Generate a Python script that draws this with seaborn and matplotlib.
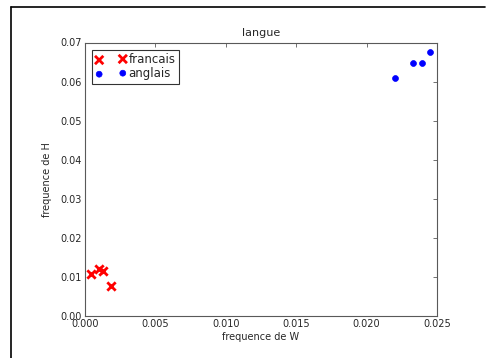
import matplotlib
matplotlib.use("Agg")
import matplotlib.pyplot as plt
from matplotlib.lines import Line2D
import seaborn as sns
import pandas as pd

# frequences
francais_w = [0.00043, 0.00099, 0.00128, 0.00185]
francais_h = [0.01075, 0.0120, 0.0115, 0.0077]
anglais_w = [0.0220, 0.0233, 0.0239, 0.0245]
anglais_h = [0.0610, 0.0647, 0.0648, 0.0676]

x_ticks = [0.000, 0.005, 0.010, 0.015, 0.020, 0.025]
y_ticks = [0.00, 0.01, 0.02, 0.03, 0.04, 0.05, 0.06, 0.07]

sns.set_style("white", {
    "xtick.direction": "in",
    "ytick.direction": "in",
    "axes.edgecolor": "0.35",
})
plt.rcParams["font.family"] = ["DejaVu Sans"]
plt.rcParams["font.size"] = 7

fr = pd.DataFrame({"w": francais_w, "h": francais_h})
en = pd.DataFrame({"w": anglais_w, "h": anglais_h})

fig = plt.figure(figsize=(4.95, 3.58), dpi=100)
ax = fig.add_axes([85 / 495, 42 / 358, (437 - 85) / 495, (316 - 42.5) / 358])

sns.scatterplot(data=fr, x="w", y="h", ax=ax, marker="x", color="red",
                s=36, linewidth=2, label="francais")
sns.scatterplot(data=en, x="w", y="h", ax=ax, marker="o", color="blue",
                s=18, edgecolor="blue", linewidth=0.5, label="anglais")

ax.set_xlim(0, 0.025)
ax.set_ylim(0, 0.07)
ax.set_xticks(x_ticks)
ax.set_xticklabels([f"{v:.3f}" for v in x_ticks])
ax.set_yticks(y_ticks)
ax.set_yticklabels([f"{v:.2f}" for v in y_ticks])
ax.tick_params(top=True, right=True, length=3, width=0.6, color="0.35",
               labelsize=7, pad=2, labelcolor="0.15")
for sp in ax.spines.values():
    sp.set_linewidth(0.8)

ax.set_title("langue", fontsize=8, pad=5)
ax.set_xlabel("frequence de W", fontsize=7, labelpad=2)
ax.set_ylabel("frequence de H", fontsize=7, labelpad=6)

leg = ax.legend(loc="upper left", scatterpoints=2, fontsize=8.5,
                frameon=True, fancybox=False, borderpad=0.3,
                handletextpad=0.2, labelspacing=0.1, borderaxespad=0.6,
                handlelength=2.6)
leg.get_frame().set_edgecolor("black")
leg.get_frame().set_linewidth(0.8)

# cadre autour de la figure
fig.add_artist(Line2D([11 / 495, 11 / 495], [0, 1 - 7 / 358], color="black",
                      lw=1.2, transform=fig.transFigure))
fig.add_artist(Line2D([11 / 495, 485 / 495], [1 - 7 / 358, 1 - 7 / 358],
                      color="black", lw=1.2, transform=fig.transFigure))

fig.savefig("out.png", dpi=100)
